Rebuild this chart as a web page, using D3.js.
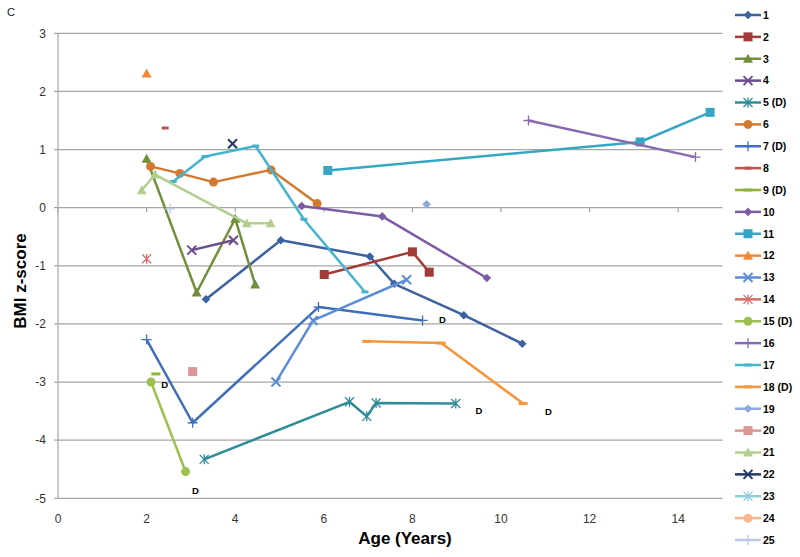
<!DOCTYPE html>
<html><head><meta charset="utf-8">
<script src="https://cdn.jsdelivr.net/npm/d3@7"></script>
<style>body{margin:0;background:#fff}svg{display:block}</style>
</head><body>
<svg id="c" width="800" height="557"></svg>
<script>
// ---- data ----
const seriesNames = ["1","2","3","4","5 (D)","6","7 (D)","8","9 (D)","10","11","12","13","14","15 (D)","16","17","18 (D)","19","20","21","22","23","24","25"];
const seriesColors = ["#3D62A0","#A33B38","#72903B","#6B4C8D","#2E8C98","#D2792F","#3F6FB8","#C0504D","#8DB33F","#7D5AA5","#37A6C2","#F0893A","#5B8ED5","#DA6B6B","#9CC14F","#8A69B0","#45B4CF","#F7953A","#8FA9DA","#D99694","#B3CF8F","#1F3864","#93CDDD","#FAB58A","#BCC8E2"];
const markerTypes = ["diamond","square","triangle","x","star","circle","plus","dash","longdash"];
const s1  = [[3.34,-1.575],[5.03,-0.56],[7.04,-0.84],[7.59,-1.31],[9.16,-1.85],[10.48,-2.34]];
const s2  = [[6.01,-1.15],[8.0,-0.76],[8.38,-1.11]];
const s3  = [[2.0,0.84],[3.13,-1.46],[4.0,-0.19],[4.45,-1.32]];
const s4  = [[3.02,-0.73],[3.96,-0.56]];
const s5  = [[3.30,-4.33],[6.58,-3.34],[6.97,-3.59],[7.18,-3.36],[8.98,-3.37]];
const s6  = [[2.09,0.71],[2.75,0.59],[3.51,0.44],[4.81,0.65],[5.85,0.07]];
const s7  = [[2.0,-2.27],[3.04,-3.70],[5.88,-1.71],[8.23,-1.94]];
const s8  = [[2.42,1.37]];
const s9  = [[2.21,-2.86]];
const s10 = [[5.5,0.03],[7.32,-0.15],[9.68,-1.21]];
const s11 = [[6.09,0.64],[13.14,1.13],[14.72,1.64]];
const s12 = [[2.0,2.31]];
const s13 = [[4.92,-3.0],[5.76,-1.94],[7.87,-1.24]];
const s14 = [[2.0,-0.88]];
const s15 = [[2.10,-3.0],[2.88,-4.54]];
const s16 = [[10.62,1.50],[14.39,0.87]];
const s17 = [[2.6,0.45],[3.32,0.88],[4.46,1.06],[5.55,-0.2],[6.93,-1.45]];
const s18 = [[6.97,-2.30],[8.65,-2.33],[10.5,-3.37]];
const s19 = [[8.32,0.06]];
const s20 = [[3.04,-2.82]];
const s21 = [[1.89,0.30],[2.19,0.57],[4.26,-0.27],[4.80,-0.27]];
const s22 = [[3.94,1.10]];
const s23 = [];
const s24 = [];
const s25 = [[2.53,-0.02]];
const seriesData = [s1,s2,s3,s4,s5,s6,s7,s8,s9,s10,s11,s12,s13,s14,s15,s16,s17,s18,s19,s20,s21,s22,s23,s24,s25];
const dLabels = [[2.41,-3.05],[3.1,-4.86],[8.68,-1.92],[9.5,-3.49],[11.07,-3.5]];
const xTicks = [0,2,4,6,8,10,12,14];
const yTicks = [-5,-4,-3,-2,-1,0,1,2,3];

// ---- chart ----
const svg = d3.select("#c");
const x = d3.scaleLinear().domain([0,15]).range([58,722.5]);
const y = d3.scaleLinear().domain([-5,3]).range([498.3,33.3]);
const font = "'Liberation Sans', Arial, sans-serif";

svg.append("text").attr("x",7).attr("y",15.5).attr("font-family",font).attr("font-size",11).attr("fill","#222").text("C");

// gridlines
svg.append("g").selectAll("line").data(yTicks).join("line")
  .attr("x1",x(0)-4).attr("x2",x(15)).attr("y1",d=>y(d)).attr("y2",d=>y(d))
  .attr("stroke","#A6A6A6").attr("stroke-width",1.2);
// y axis line
svg.append("line").attr("x1",x(0)).attr("x2",x(0)).attr("y1",y(3)).attr("y2",y(-5))
  .attr("stroke","#A6A6A6").attr("stroke-width",1.2);
// x ticks at y=0
svg.append("g").selectAll("line").data(xTicks).join("line")
  .attr("x1",d=>x(d)).attr("x2",d=>x(d)).attr("y1",y(0)).attr("y2",y(0)+4.5)
  .attr("stroke","#A6A6A6").attr("stroke-width",1.2);
// tick labels
svg.append("g").selectAll("text").data(yTicks).join("text")
  .attr("x",46).attr("y",d=>y(d)+4.2).attr("text-anchor","end")
  .attr("font-family",font).attr("font-size",12).attr("fill","#333").text(d=>d);
svg.append("g").selectAll("text").data(xTicks).join("text")
  .attr("x",d=>x(d)).attr("y",523).attr("text-anchor","middle")
  .attr("font-family",font).attr("font-size",12).attr("fill","#333").text(d=>d);
// axis titles
svg.append("text").attr("x",405).attr("y",544).attr("text-anchor","middle")
  .attr("font-family",font).attr("font-size",17).attr("font-weight","bold").attr("fill","#000").text("Age (Years)");
svg.append("text").attr("transform","translate(26,281) rotate(-90)").attr("text-anchor","middle")
  .attr("font-family",font).attr("font-size",17).attr("font-weight","bold").attr("fill","#000").text("BMI z-score");

function drawMarker(g, type, cx, cy, color){
  const s = 4.3;
  if(type==="diamond"){
    g.append("path").attr("d",`M${cx},${cy-s}L${cx+s},${cy}L${cx},${cy+s}L${cx-s},${cy}Z`).attr("fill",color);
  } else if(type==="square"){
    g.append("rect").attr("x",cx-4.5).attr("y",cy-4.5).attr("width",9).attr("height",9).attr("fill",color);
  } else if(type==="triangle"){
    g.append("path").attr("d",`M${cx},${cy-5}L${cx+5},${cy+4}L${cx-5},${cy+4}Z`).attr("fill",color);
  } else if(type==="circle"){
    g.append("circle").attr("cx",cx).attr("cy",cy).attr("r",4.5).attr("fill",color);
  } else if(type==="x"){
    g.append("path").attr("d",`M${cx-4.5},${cy-4.5}L${cx+4.5},${cy+4.5}M${cx-4.5},${cy+4.5}L${cx+4.5},${cy-4.5}`).attr("stroke",color).attr("stroke-width",2).attr("fill","none");
  } else if(type==="star"){
    g.append("path").attr("d",`M${cx-4.5},${cy-4.5}L${cx+4.5},${cy+4.5}M${cx-4.5},${cy+4.5}L${cx+4.5},${cy-4.5}M${cx},${cy-5}L${cx},${cy+5}`).attr("stroke",color).attr("stroke-width",1.3).attr("fill","none");
  } else if(type==="plus"){
    g.append("path").attr("d",`M${cx-5},${cy}L${cx+5},${cy}M${cx},${cy-5}L${cx},${cy+5}`).attr("stroke",color).attr("stroke-width",1.3).attr("fill","none");
  } else if(type==="dash"){
    g.append("rect").attr("x",cx-3.5).attr("y",cy-1.5).attr("width",7).attr("height",3).attr("fill",color);
  } else if(type==="longdash"){
    g.append("rect").attr("x",cx-4.5).attr("y",cy-1.5).attr("width",9).attr("height",3).attr("fill",color);
  }
}

const line = d3.line().x(d=>x(d[0])).y(d=>y(d[1]));
const plot = svg.append("g");
seriesData.forEach((data,i)=>{
  const color = seriesColors[i];
  const mt = markerTypes[i % markerTypes.length];
  const g = plot.append("g");
  if(data.length>1){
    g.append("path").attr("d",line(data)).attr("fill","none").attr("stroke",color)
      .attr("stroke-width",2.5).attr("stroke-linejoin","round");
  }
  data.forEach(d=>drawMarker(g, mt, x(d[0]), y(d[1]), color));
});

// D labels
svg.append("g").selectAll("text").data(dLabels).join("text")
  .attr("x",d=>x(d[0])).attr("y",d=>y(d[1])+3.5).attr("text-anchor","middle")
  .attr("font-family",font).attr("font-size",9.5).attr("font-weight","bold").attr("fill","#000").text("D");

// legend
const leg = svg.append("g");
seriesNames.forEach((name,i)=>{
  const ly = 15 + i*21.875;
  const color = seriesColors[i];
  const g = leg.append("g");
  g.append("line").attr("x1",735).attr("x2",761).attr("y1",ly).attr("y2",ly).attr("stroke",color).attr("stroke-width",2.5);
  drawMarker(g, markerTypes[i % markerTypes.length], 748, ly, color);
  g.append("text").attr("x",763).attr("y",ly+3.8).attr("font-family",font).attr("font-size",10.5)
    .attr("font-weight","bold").attr("fill","#000").text(name);
});
</script>
</body></html>
